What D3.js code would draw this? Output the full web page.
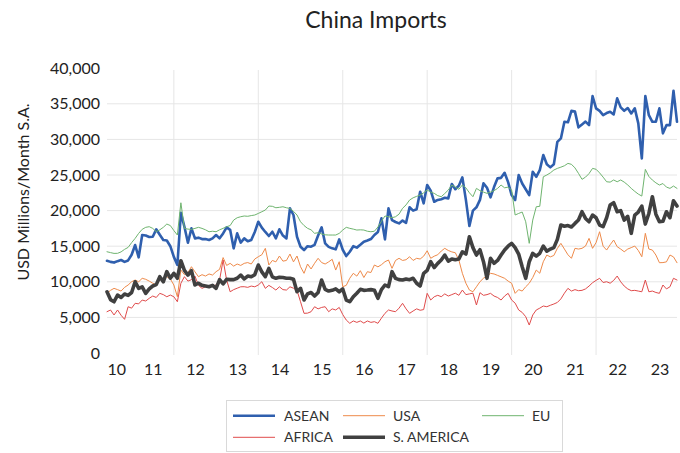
<!DOCTYPE html>
<html><head><meta charset="utf-8">
<script src="https://cdn.jsdelivr.net/npm/d3@7"></script>
<style>
body{margin:0;background:#fff;}
svg{display:block;font-family:Lato,"Open Sans",sans-serif;}
</style>
</head><body>
<svg id="chart" width="680" height="453"></svg>
<script>
// ---- data (monthly, seasonally adjusted, USD millions) ----
const startMonth = 5; // months after Jan 2010 -> June 2010
const yearLabels = ["10","11","12","13","14","15","16","17","18","19","20","21","22","23"];
const yTicks = [0,5000,10000,15000,20000,25000,30000,35000,40000];
const gridYears = [2012,2014,2016,2018,2020,2022];
const seriesNames = ["ASEAN","USA","EU","AFRICA","S. AMERICA"];

const asean = [
12960,12800,12700,12900,13060,12800,13000,13800,15160,13440,16570,16500,
16300,16330,17370,16600,15870,15800,15000,13500,12360,19700,17730,15490,
17510,16100,16200,16000,16000,15870,16100,16570,16100,16800,17650,17300,
14700,16800,15500,16100,15700,15870,17000,18430,17600,17000,16430,17030,
16100,17370,16500,16100,20320,19380,16330,14930,14460,15000,14930,15200,
16500,17650,15400,14900,14700,14560,15960,14500,13620,14220,15000,14800,
15200,15630,15800,16000,16570,17000,18910,15960,20320,18670,18400,18200,
18600,18290,20460,20000,20200,22650,21020,23590,22800,21240,21500,21600,
21800,21720,23730,23000,23500,24670,21500,17830,20000,20460,21500,23830,
23200,21860,23300,24530,24600,25310,24000,22180,21480,24990,23800,23000,
22180,25450,24750,25690,27800,26500,26070,26500,29660,30140,32470,32400,
34020,33900,31690,32100,32500,32010,36080,34360,34000,33420,33700,33880,
33500,35760,34500,34020,34400,33650,34360,32250,27340,36080,33400,32470,
32500,34360,30850,32000,32010,36830,32470];

const usa = [
8380,8800,9080,8900,8700,9220,9550,10010,10250,10000,10490,10350,
10100,9800,9550,10250,10500,10720,10400,9550,7910,11650,11000,11300,
12120,11400,10720,11000,10810,11100,10950,11420,11750,13400,12300,12590,
12200,12500,12300,12590,12700,12500,13200,13520,13800,14700,12360,13000,
12800,13620,12900,13000,13900,12800,13620,12120,11190,12500,11800,12600,
13300,12700,12500,12800,13160,11650,12820,9310,9500,10500,11190,10800,
11560,10600,11420,11300,12360,12100,12400,12820,13060,11890,13000,13300,
13000,13100,13520,13000,13300,13200,13600,14360,13300,13600,13800,14320,
14700,14400,14200,14080,13060,11190,9800,8840,8600,9300,10010,10500,
10800,11190,11100,10900,10700,10490,10100,9790,8380,8900,8700,9300,
9790,10600,11650,11200,12820,13760,13500,13700,14700,15400,14600,13800,
13300,14700,14600,14700,15020,16100,14700,15500,17030,15000,14460,15200,
15870,14930,14600,14220,14600,14800,15020,14400,13520,16810,14600,14460,
13760,12680,12700,12800,13760,13500,12680];

const eu = [
14220,14100,13990,14000,14200,14560,14830,15500,16100,16800,17370,17650,
17740,17500,17030,17300,17650,18110,17900,17200,16570,21100,17510,17400,
17370,17500,17650,17500,17300,17030,17100,17030,17300,17510,17740,17900,
18670,19000,19140,19240,19200,19300,19380,19600,19840,20080,20640,20600,
20400,20460,20540,20400,20300,19900,19380,18430,17900,17510,17300,16810,
16900,16710,16600,16570,16570,16570,16800,17270,17650,17510,17400,17270,
17300,17270,17100,17030,17100,17700,18500,19240,19140,19000,19140,19500,
20320,20800,21480,21800,22000,22180,22500,22890,22600,22420,22100,21950,
22400,22890,23590,23300,23000,23590,23200,22500,21950,23120,22800,22600,
22420,22600,22800,23120,23590,23200,23300,22890,19380,19600,19800,18430,
15400,18670,20540,20600,24750,25000,25300,25700,25930,26100,26300,26630,
26500,26000,25230,24390,24700,25200,25930,25800,25300,24700,24050,24000,
24300,24050,24300,24000,23600,23120,22700,22320,22040,25790,24800,24290,
23900,23590,23800,23300,23120,23450,23120];

const africa = [
5800,6040,5340,6040,5300,4730,6500,6300,6980,6900,7440,7300,
7680,8000,7800,8380,8200,7900,8140,7900,7200,9790,10720,10100,
10300,10810,9500,9080,9300,9500,9400,9550,10250,13060,10250,8600,
8900,9100,9300,9310,9220,9400,9300,9550,10010,9080,9500,9200,
8840,9300,8900,8840,9300,9100,8800,7200,5570,5600,5800,6500,
6200,6400,6500,5800,6200,6040,6400,5400,4630,4170,4500,4300,
4500,4200,4500,4300,4400,4170,4900,5570,6040,5900,5800,6300,
6980,6200,5570,5900,6200,6000,6100,8380,7440,7900,8100,7910,
8300,8000,8200,8400,8100,8840,8200,8300,8400,6740,8470,8100,
8200,8380,8000,7800,7440,8000,8380,7440,7000,6040,5700,5100,
3930,5340,6040,6300,6600,6500,6700,6880,7100,7600,8400,9080,
8700,8900,8750,8800,9000,9400,9870,10200,10490,9900,10010,9800,
10200,10810,10000,9400,9000,8750,8800,8700,8600,10250,8600,8700,
8500,8380,9550,9000,9300,10490,10250];

const sAmerica = [
8600,7500,7200,8140,7800,8280,8100,8500,10010,9080,9300,8380,
9000,9410,9600,10720,10000,11420,10500,11190,10500,12960,11600,10950,
11560,9550,9800,9500,9400,9300,9500,9080,10300,9700,10350,10300,
10300,10500,10950,10400,10810,10700,11000,12360,11400,10720,11890,10700,
10490,10630,10600,10500,10500,10350,8600,9080,7440,8300,8500,8000,
8500,10250,8940,8700,8800,9000,8600,9000,7440,7200,7900,8400,
8940,8800,8840,8900,8800,7680,8900,9550,9310,11420,10490,10300,
10250,10400,10300,10500,9800,9410,11190,11600,12820,12000,12590,13060,
13760,12900,13200,13100,13200,14220,13900,16330,14800,13760,14500,12820,
10490,13300,12600,13000,13760,14460,15000,15400,14800,13900,12120,10490,
12820,14000,13600,14000,15020,14300,14600,14800,15960,17970,17800,17900,
17700,18200,18670,19840,18900,18430,19380,19000,17970,17740,19000,20780,
21100,19840,20000,18670,19200,16810,19380,19800,20640,18110,19600,21950,
19500,18430,18500,19840,19000,21390,20640];

// ---- styles ----
const seriesValues = [asean, usa, eu, africa, sAmerica];
const seriesStyle = [
  {color:"#2f5fae", width:2.6},
  {color:"#ee8a4a", width:1},
  {color:"#6fb46f", width:1},
  {color:"#e04b4b", width:1},
  {color:"#404040", width:3.6}
];

const svg = d3.select("#chart");
const plotL = 107, plotR = 677, plotB = 353, plotT = 68.2;
const nPts = asean.length;
const x = d3.scaleLinear().domain([startMonth, startMonth + nPts - 1]).range([plotL, plotR]);
const y = d3.scaleLinear().domain([0, 40000]).range([plotB, plotT]);

// title
svg.append("text").attr("x", 376).attr("y", 28).attr("text-anchor","middle")
  .attr("font-size", 23).attr("fill", "#222").text("China Imports");

// gridlines
const grid = svg.append("g");
grid.selectAll("line.h").data(yTicks.filter(v => v > 0 && v < 40000)).join("line")
  .attr("x1", plotL).attr("x2", plotR)
  .attr("y1", d => y(d)).attr("y2", d => y(d))
  .attr("stroke", "#e6e6e6").attr("stroke-width", 1);
grid.selectAll("line.v").data(gridYears).join("line")
  .attr("x1", d => x((d - 2010) * 12)).attr("x2", d => x((d - 2010) * 12))
  .attr("y1", 70).attr("y2", 355)
  .attr("stroke", "#e6e6e6").attr("stroke-width", 1);

// y axis
const yAxis = svg.append("g").attr("transform", "translate(100,0)")
  .call(d3.axisLeft(y).tickValues(yTicks).tickFormat(d3.format(",")).tickSize(0).tickPadding(0));
yAxis.select(".domain").remove();
yAxis.selectAll("text").attr("font-size", 16).attr("fill", "#222").style("font-family", "Lato");

// x axis (labels at mid-year)
const labelMonths = yearLabels.map((d, i) => i * 12 + 6);
const xAxis = svg.append("g").attr("transform", "translate(0,356)")
  .call(d3.axisBottom(x).tickValues(labelMonths).tickFormat((d, i) => yearLabels[i]).tickSize(0).tickPadding(8));
xAxis.select(".domain").remove();
xAxis.selectAll("text").attr("font-size", 16).attr("fill", "#222").style("font-family", "Lato");
xAxis.selectAll(".tick").each(function(d) {
  const t = d3.select(this).select("text");
  const w = t.node().getComputedTextLength();
  const cx = x(d);
  if (cx - w / 2 < plotL) t.attr("x", plotL + w / 2 - cx);
});

// y axis title
svg.append("text").attr("transform", "translate(29,192) rotate(-90)")
  .attr("text-anchor", "middle").attr("font-size", 16).attr("fill", "#222")
  .text("USD Millions/Month S.A.");

// lines
const line = d3.line().x((d, i) => x(startMonth + i)).y(d => y(d));
svg.append("g").selectAll("path").data(seriesValues).join("path")
  .attr("d", d => line(d))
  .attr("fill", "none")
  .attr("stroke", (d, i) => seriesStyle[i].color)
  .attr("stroke-width", (d, i) => seriesStyle[i].width)
  .attr("stroke-linejoin", "round").attr("stroke-linecap", "round");

// legend
const legend = svg.append("g");
legend.append("rect").attr("x", 226.5).attr("y", 400.5).attr("width", 336).attr("height", 51)
  .attr("fill", "none").attr("stroke", "#d9d9d9");
const legPos = [
  {lx:233, tx:284, y:415.7},
  {lx:343, tx:393, y:415.7},
  {lx:482, tx:532, y:415.7},
  {lx:233, tx:284, y:437.3},
  {lx:343, tx:393, y:437.3}
];
seriesNames.forEach((name, i) => {
  const p = legPos[i];
  legend.append("line").attr("x1", p.lx).attr("x2", p.lx + 42).attr("y1", p.y).attr("y2", p.y)
    .attr("stroke", seriesStyle[i].color).attr("stroke-width", seriesStyle[i].width);
  legend.append("text").attr("x", p.tx).attr("y", p.y).attr("dy", "0.36em")
    .attr("font-size", 14).attr("fill", "#333").text(name);
});
</script>
</body></html>
